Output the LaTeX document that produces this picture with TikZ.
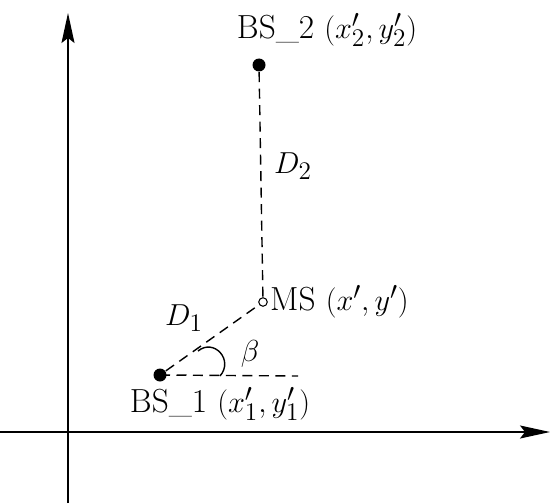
\documentclass[tikz,border=0pt]{standalone}
\usepackage{tikz}
\usetikzlibrary{arrows.meta}

\tikzset{
  station/.style={circle, fill=black, inner sep=0pt, minimum size=2.6mm},
  mobile/.style={circle, draw=black, fill=white, line width=0.6pt, inner sep=0pt, minimum size=1.7mm},
  rangeline/.style={dash pattern=on 2mm off 1.3mm, line width=0.8pt},
  lbl/.style={font=\fontsize{19}{22}\selectfont, inner sep=1pt}
}

\begin{document}
\begin{tikzpicture}[x=0.02cm, y=-0.02cm, line width=0.8pt]
\useasboundingbox (0,0) rectangle (550,503);

% axes
\coordinate (ybot) at (68,503);
\coordinate (ytop) at (68,13);
\coordinate (xleft) at (0,432);
\coordinate (xright) at (550,432);
\draw[-{Stealth[length=6mm,width=2.6mm,inset=1mm]}] (ybot) -- (ytop);
\draw[-{Stealth[length=6mm,width=2.6mm,inset=1mm]}] (xleft) -- (xright);

% stations
\node[station] (bs1) at (160,375) {};
\node[station] (bs2) at (259,65) {};
\node[mobile] (ms) at (263,302) {};
\coordinate (hor) at (298,376);

% ranges
\draw[rangeline] (bs2) -- (ms);
\draw[rangeline] (bs1) -- (ms);
\draw[rangeline] (bs1.center) -- (hor);

% angle
\draw (220,376) .. controls (234,360) and (214,338) .. (198,351);

% labels
\node[lbl] (bs2lbl) at (327,30) {BS\_2 $(x'_2, y'_2)$};
\node[lbl] (d2) at (293,166) {$D_2$};
\node[lbl, anchor=west] (mslbl) at (ms.east) {MS $(x', y')$};
\node[lbl] (d1) at (184,318) {$D_1$};
\node[lbl] (beta) at (250,354) {$\beta$};
\node[lbl] (bs1lbl) at (220,404) {BS\_1 $(x'_1, y'_1)$};
\end{tikzpicture}
\end{document}
